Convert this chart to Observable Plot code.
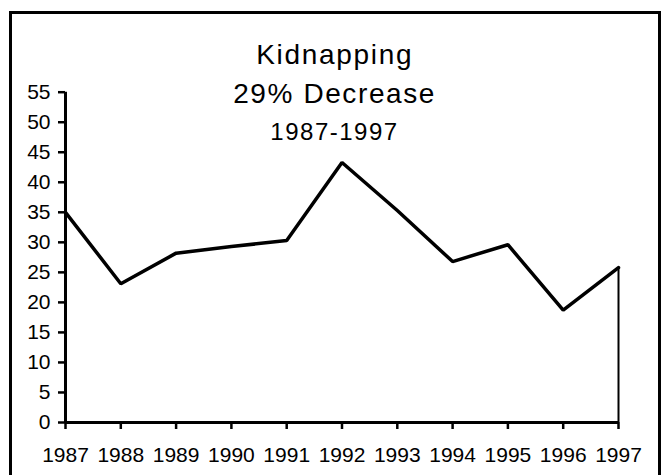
<!DOCTYPE html>
<html>
<head>
<meta charset="utf-8">
<script src="https://cdn.jsdelivr.net/npm/d3@7"></script>
<script src="https://cdn.jsdelivr.net/npm/@observablehq/plot@0.6"></script>
<style>
  html, body { margin: 0; padding: 0; background: #fff; }
  #wrap { position: relative; width: 667px; height: 475px; overflow: hidden; background: #fff; font-family: "Liberation Sans", Arial, sans-serif; }
  #frame { position: absolute; left: 9px; top: 11px; width: 652px; height: 480px; border: 3px solid #000; box-sizing: border-box; }
  .ttl { position: absolute; left: 0; width: 666px; text-align: center; line-height: 1; color: #000; white-space: nowrap; }
  #chart { position: absolute; left: 0; top: 0; }
</style>
</head>
<body>
<div id="wrap">
  <div id="frame"></div>
  <div id="chart"></div>
  <div class="ttl" id="t1" style="top:41px;font-size:28px;letter-spacing:1.7px;padding-left:1.7px;">Kidnapping</div>
  <div class="ttl" id="t2" style="top:80px;font-size:28px;letter-spacing:1.6px;padding-left:1.6px;">29% Decrease</div>
  <div class="ttl" id="t3" style="top:120px;font-size:24px;letter-spacing:1.5px;padding-left:1.5px;">1987-1997</div>
</div>
<script>
const years = [1987, 1988, 1989, 1990, 1991, 1992, 1993, 1994, 1995, 1996, 1997];
const kidnappings = [35, 23.1, 28.2, 29.3, 30.3, 43.3, 35.3, 26.8, 29.6, 18.7, 25.8];
const yTicks = [0, 5, 10, 15, 20, 25, 30, 35, 40, 45, 50, 55];

const data = years.map((yr, i) => ({year: yr, value: kidnappings[i]}));
const first = years[0], last = years[years.length - 1];
const yMin = yTicks[0], yMax = yTicks[yTicks.length - 1];

const chart = Plot.plot({
  width: 667,
  height: 475,
  marginLeft: 65,
  marginRight: 49,
  marginTop: 91.7,
  marginBottom: 53,
  style: {fontFamily: "'Liberation Sans', Arial, sans-serif", background: "transparent", color: "#000"},
  x: {type: "linear", domain: [first, last]},
  y: {domain: [yMin, yMax]},
  marks: [
    Plot.axisX({ticks: years, tickFormat: d => String(d), tickSize: 7, tickPadding: 18, fontSize: 21, strokeWidth: 2.5, label: null}),
    Plot.axisY({ticks: yTicks, tickSize: 7, tickPadding: 8, fontSize: 21, strokeWidth: 2.5, label: null}),
    Plot.ruleY([yMin], {stroke: "#000", strokeWidth: 3}),
    Plot.ruleX([first], {y1: yMin, y2: yMax, stroke: "#000", strokeWidth: 3}),
    Plot.ruleX([data[data.length - 1]], {x: "year", y1: () => yMin, y2: "value", stroke: "#000", strokeWidth: 2}),
    Plot.line(data, {x: "year", y: "value", stroke: "#000", strokeWidth: 3.5, strokeLinejoin: "miter"})
  ]
});
d3.select(chart).selectAll("g[aria-label='x-axis tick'], g[aria-label='y-axis tick']")
  .attr("stroke-width", 2.5);
d3.select(chart).selectAll("g[aria-label='x-axis tick'] path, g[aria-label='y-axis tick'] path")
  .attr("stroke-width", 2.5);
document.getElementById("chart").appendChild(chart);
</script>
</body>
</html>
